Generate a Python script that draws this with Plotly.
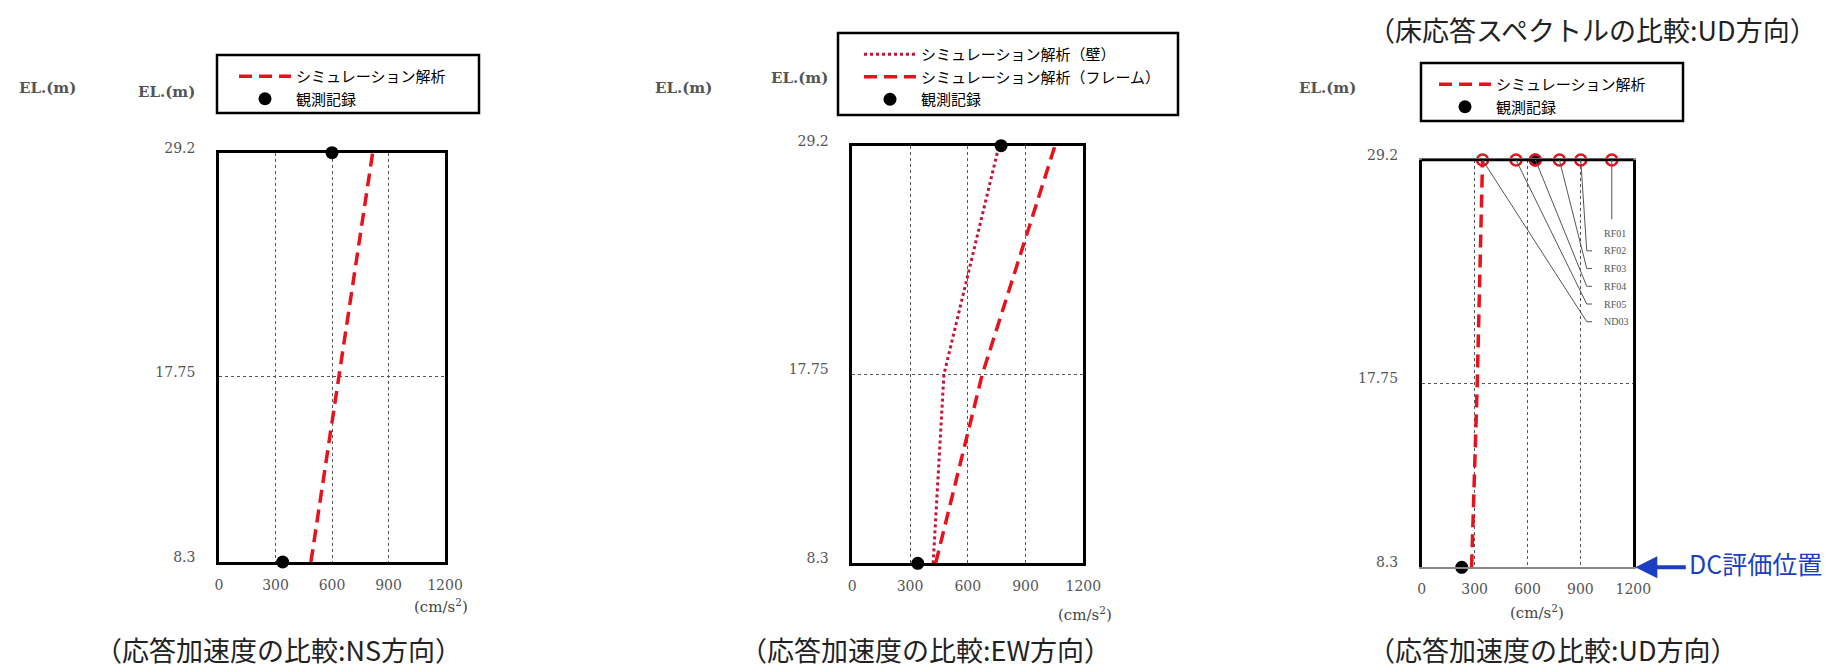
import plotly.graph_objects as go

# ---- data -------------------------------------------------------------
el_levels = [8.3, 17.75, 29.2]          # floor elevations EL.(m)
el_obs = [8.3, 29.2]                     # elevations with seismometers
x_ticks = [0, 300, 600, 900, 1200]       # acceleration (cm/s2)
y_tick_text = ["8.3", "17.75", "29.2"]

# NS direction
ns_sim = [488, 637, 816]
ns_obs = [338, 600]

# EW direction
ew_sim_wall = [420, 476, 762]
ew_sim_frame = [433, 675, 1053]
ew_obs = [340, 773]

# UD direction
ud_sim = [283, 315, 345]
ud_obs = [227, 643]
ud_top_names = ["RF01", "RF02", "RF03", "RF04", "RF05", "ND03"]
ud_top_values = [1078, 902, 781, 645, 535, 345]

# ---- styling ----------------------------------------------------------
W, H = 1828, 669
RED = "#e8121c"
WALL = "#c4143a"
BLUE = "#1b3fc0"
SERIF = "DejaVu Serif"
CJK = "Noto Sans CJK JP"
DASH = "13px,7px"


def px(x):
    return x / W


def py(y):
    return 1 - y / H


fig = go.Figure()

# panel 1: NS
fig.add_trace(go.Scatter(x=ns_sim, y=el_levels, mode="lines", name="シミュレーション解析",
                         line=dict(color=RED, width=3.5, dash=DASH),
                         xaxis="x", yaxis="y", legend="legend", cliponaxis=False))
fig.add_trace(go.Scatter(x=ns_obs, y=el_obs, mode="markers", name="観測記録",
                         marker=dict(color="black", size=13),
                         xaxis="x", yaxis="y", legend="legend", cliponaxis=False))

# panel 2: EW
fig.add_trace(go.Scatter(x=ew_sim_wall, y=el_levels, mode="lines", name="シミュレーション解析（壁）",
                         line=dict(color=WALL, width=3, dash="dot"),
                         xaxis="x2", yaxis="y2", legend="legend2", cliponaxis=False))
fig.add_trace(go.Scatter(x=ew_sim_frame, y=el_levels, mode="lines", name="シミュレーション解析（フレーム）",
                         line=dict(color=RED, width=3.5, dash=DASH),
                         xaxis="x2", yaxis="y2", legend="legend2", cliponaxis=False))
fig.add_trace(go.Scatter(x=ew_obs, y=el_obs, mode="markers", name="観測記録",
                         marker=dict(color="black", size=13),
                         xaxis="x2", yaxis="y2", legend="legend2", cliponaxis=False))

# panel 3: UD
fig.add_trace(go.Scatter(x=ud_sim, y=el_levels, mode="lines", name="シミュレーション解析",
                         line=dict(color=RED, width=3.5, dash=DASH),
                         xaxis="x3", yaxis="y3", legend="legend3", cliponaxis=False))
fig.add_trace(go.Scatter(x=ud_obs, y=el_obs, mode="markers", name="観測記録",
                         marker=dict(color="black", size=13),
                         xaxis="x3", yaxis="y3", legend="legend3", cliponaxis=False))
fig.add_trace(go.Scatter(x=ud_top_values, y=[el_levels[-1]] * len(ud_top_values), mode="markers",
                         marker=dict(symbol="circle-open", color=RED, size=11, line=dict(width=2.5)),
                         xaxis="x3", yaxis="y3", showlegend=False, cliponaxis=False))

# ---- axes -------------------------------------------------------------
panels = {
    "": dict(x0=219, x1=445, y0=152.7, y1=562),
    "2": dict(x0=852.3, x1=1083.3, y0=145.7, y1=563.3),
    "3": dict(x0=1421.7, x1=1633.3, y0=160, y1=567.3),
}
tick_font = dict(family=SERIF, size=14, color="#555")
for k, p in panels.items():
    fig.update_layout(**{
        "xaxis" + k: dict(domain=[px(p["x0"]), px(p["x1"])], anchor="y" + k, range=[0, 1200],
                          tickvals=x_ticks, showgrid=True, gridcolor="#555", griddash="dot",
                          gridwidth=1.3, zeroline=False, showline=True, mirror=True,
                          linecolor="black", linewidth=2.5, ticks="", tickfont=tick_font,
                          ticklabelstandoff=8, automargin=False),
        "yaxis" + k: dict(domain=[py(p["y1"]), py(p["y0"])], anchor="x" + k, range=[8.3, 29.2],
                          tickvals=el_levels, ticktext=y_tick_text, showgrid=True, gridcolor="#555",
                          griddash="dot", gridwidth=1.3, zeroline=False, showline=True, mirror=True,
                          linecolor="black", linewidth=2.5, ticks="", tickfont=tick_font,
                          ticklabelstandoff=18, ticklabelshift=-5, automargin=False),
    })

# UD panel: lighter base line
fig.update_layout(xaxis3=dict(linecolor="#888", linewidth=2))

shapes = [
    dict(type="line", xref="x3 domain", yref="y3 domain", x0=0, x1=1, y0=1, y1=1,
         line=dict(color="black", width=2.5)),
    # legend boxes
    dict(type="rect", xref="paper", yref="paper", x0=px(217), x1=px(479), y0=py(113), y1=py(55),
         line=dict(color="black", width=2.5)),
    dict(type="rect", xref="paper", yref="paper", x0=px(838), x1=px(1178), y0=py(115), y1=py(33),
         line=dict(color="black", width=2.5)),
    dict(type="rect", xref="paper", yref="paper", x0=px(1421), x1=px(1683), y0=py(121), y1=py(63),
         line=dict(color="black", width=2.5)),
]

# leader lines for the roof-level points of the UD panel
kink_x, end_x, label_x = 936, 966, 1022
label_top, label_step = 25.45, 0.91
annotations = []
for i, (name, val) in enumerate(zip(ud_top_names, ud_top_values)):
    ly = label_top - label_step * i
    if val > kink_x:
        path = f"M {val},{el_levels[-1]} L {val},{ly + 0.7}"
    else:
        path = f"M {val},{el_levels[-1]} L {kink_x},{ly} L {end_x},{ly}"
    shapes.append(dict(type="path", xref="x3", yref="y3", path=path,
                       line=dict(color="#555", width=1)))
    annotations.append(dict(x=label_x, y=ly, xref="x3", yref="y3", text=name, showarrow=False,
                            xanchor="left", yanchor="middle",
                            font=dict(family="Liberation Serif", size=10, color="#555")))


def note(x, y, text, font, xanchor="center"):
    annotations.append(dict(x=px(x), y=py(y), xref="paper", yref="paper", text=text,
                            showarrow=False, xanchor=xanchor, yanchor="middle", font=font))


# axis titles
for x, y in [(47, 88), (166, 92), (683, 88), (799, 78), (1327, 88)]:
    note(x, y, "<b>EL.(m)</b>", dict(family=SERIF, size=15, color="#555"))
for x, y in [(441, 606), (1085, 614), (1537, 612)]:
    note(x, y, "(cm/s<sup>2</sup>)", dict(family=SERIF, size=15, color="#444"))

# captions
cap_font = dict(family=CJK, size=27, color="#222")
for x, y, t in [(278, 649, "（応答加速度の比較:NS方向）"),
                (925, 649, "（応答加速度の比較:EW方向）"),
                (1553, 649, "（応答加速度の比較:UD方向）"),
                (1592, 29, "（床応答スペクトルの比較:UD方向）")]:
    note(x, y, t, cap_font)

# evaluation position marker
annotations.append(dict(x=1200, y=8.3, xref="x3", yref="y3", text="", showarrow=True,
                        ax=54, ay=0, arrowhead=2, arrowsize=1.1, arrowwidth=4,
                        arrowcolor=BLUE, standoff=2))
note(1687, 563, "DC評価位置", dict(family=CJK, size=25, color=BLUE), xanchor="left")

leg_common = dict(bgcolor="rgba(0,0,0,0)", borderwidth=0, xanchor="left", yanchor="top",
                  font=dict(family=CJK, size=15, color="black"), itemwidth=52,
                  tracegroupgap=0)
fig.update_layout(
    width=W, height=H, margin=dict(l=0, r=0, t=0, b=0, autoexpand=False),
    paper_bgcolor="white", plot_bgcolor="white",
    shapes=shapes, annotations=annotations,
    legend=dict(x=px(234), y=py(60), **leg_common),
    legend2=dict(x=px(859), y=py(38), **leg_common),
    legend3=dict(x=px(1434), y=py(68), **leg_common),
)

fig.write_html("out.html")
